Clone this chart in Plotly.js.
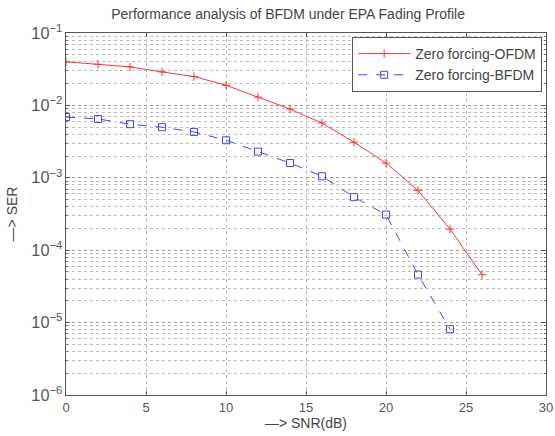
<!DOCTYPE html>
<html>
<head>
<meta charset="utf-8">
<script src="https://cdn.plot.ly/plotly-3.0.1.min.js"></script>
<style>html,body{margin:0;padding:0;background:#fff}#chart{width:555px;height:436px}</style>
</head>
<body>
<div id="chart"></div>
<script>
var snr = [0, 2, 4, 6, 8, 10, 12, 14, 16, 18, 20, 22, 24, 26];
var serOFDM = [0.040, 0.037, 0.034, 0.029, 0.025, 0.019, 0.013, 0.0089, 0.0057, 0.0031, 0.0016, 0.00067, 0.000195, 0.000046];
var snrBFDM = [0, 2, 4, 6, 8, 10, 12, 14, 16, 18, 20, 22, 24];
var serBFDM = [0.0069, 0.0065, 0.0055, 0.0050, 0.0043, 0.0033, 0.0023, 0.0016, 0.00105, 0.00054, 0.00031, 0.000046, 0.0000081];
var xTicks = [0, 5, 10, 15, 20, 25, 30];

var font = 'Liberation Sans, Arial, sans-serif';
var traces = [
  {x: snr, y: serOFDM, type: 'scatter', mode: 'lines+markers', name: 'Zero forcing-OFDM',
   line: {color: '#f03a3a', width: 1}, marker: {symbol: 'cross-thin', size: 6, line: {color: '#f03a3a', width: 1}}},
  {x: snrBFDM, y: serBFDM, type: 'scatter', mode: 'lines+markers', name: 'Zero forcing-BFDM',
   line: {color: '#4545e8', width: 1, dash: 'dash'}, marker: {symbol: 'square-open', size: 7, color: '#4545e8', line: {color: '#4545e8', width: 1}}}
];
var layout = {
  width: 555, height: 436,
  margin: {l: 66, r: 9, t: 33, b: 41},
  paper_bgcolor: '#fff', plot_bgcolor: '#fff',
  font: {family: font, size: 13, color: '#555'},
  title: {text: 'Performance analysis of BFDM under EPA Fading Profile', font: {size: 14, color: '#444'}, x: 0.519, xanchor: 'center', y: 0.968, yanchor: 'middle'},
  showlegend: true,
  legend: {x: 0.992, xanchor: 'right', y: 0.989, yanchor: 'top', bgcolor: '#fff', bordercolor: '#555', borderwidth: 1,
           font: {size: 14, color: '#444'}, tracegroupgap: 0, itemwidth: 52},
  xaxis: {range: [0, 30], tickvals: xTicks, ticktext: xTicks.map(String), ticks: 'inside', ticklen: 4, tickcolor: '#555',
          showline: true, linecolor: '#555', linewidth: 1, mirror: 'ticks', showgrid: true, gridcolor: '#bbb', griddash: 'dot',
          zeroline: false, title: {text: '—> SNR(dB)', font: {size: 14, color: '#444'}, standoff: 4}},
  yaxis: {type: 'log', range: [-6, -1], dtick: 1, exponentformat: 'power', ticks: 'inside', ticklen: 4, tickcolor: '#555',
          showline: true, linecolor: '#555', linewidth: 1, mirror: 'ticks', showgrid: true, gridcolor: '#999', griddash: 'dot',
          zeroline: false,
          minor: {dtick: 'D1', showgrid: true, gridcolor: '#bbb', griddash: 'dot', ticks: 'inside', ticklen: 2, tickcolor: '#777'},
          title: {text: '—> SER', font: {size: 14, color: '#444'}, standoff: 10}}
};
Plotly.newPlot('chart', traces, layout, {displayModeBar: false, staticPlot: true});
</script>
</body>
</html>
